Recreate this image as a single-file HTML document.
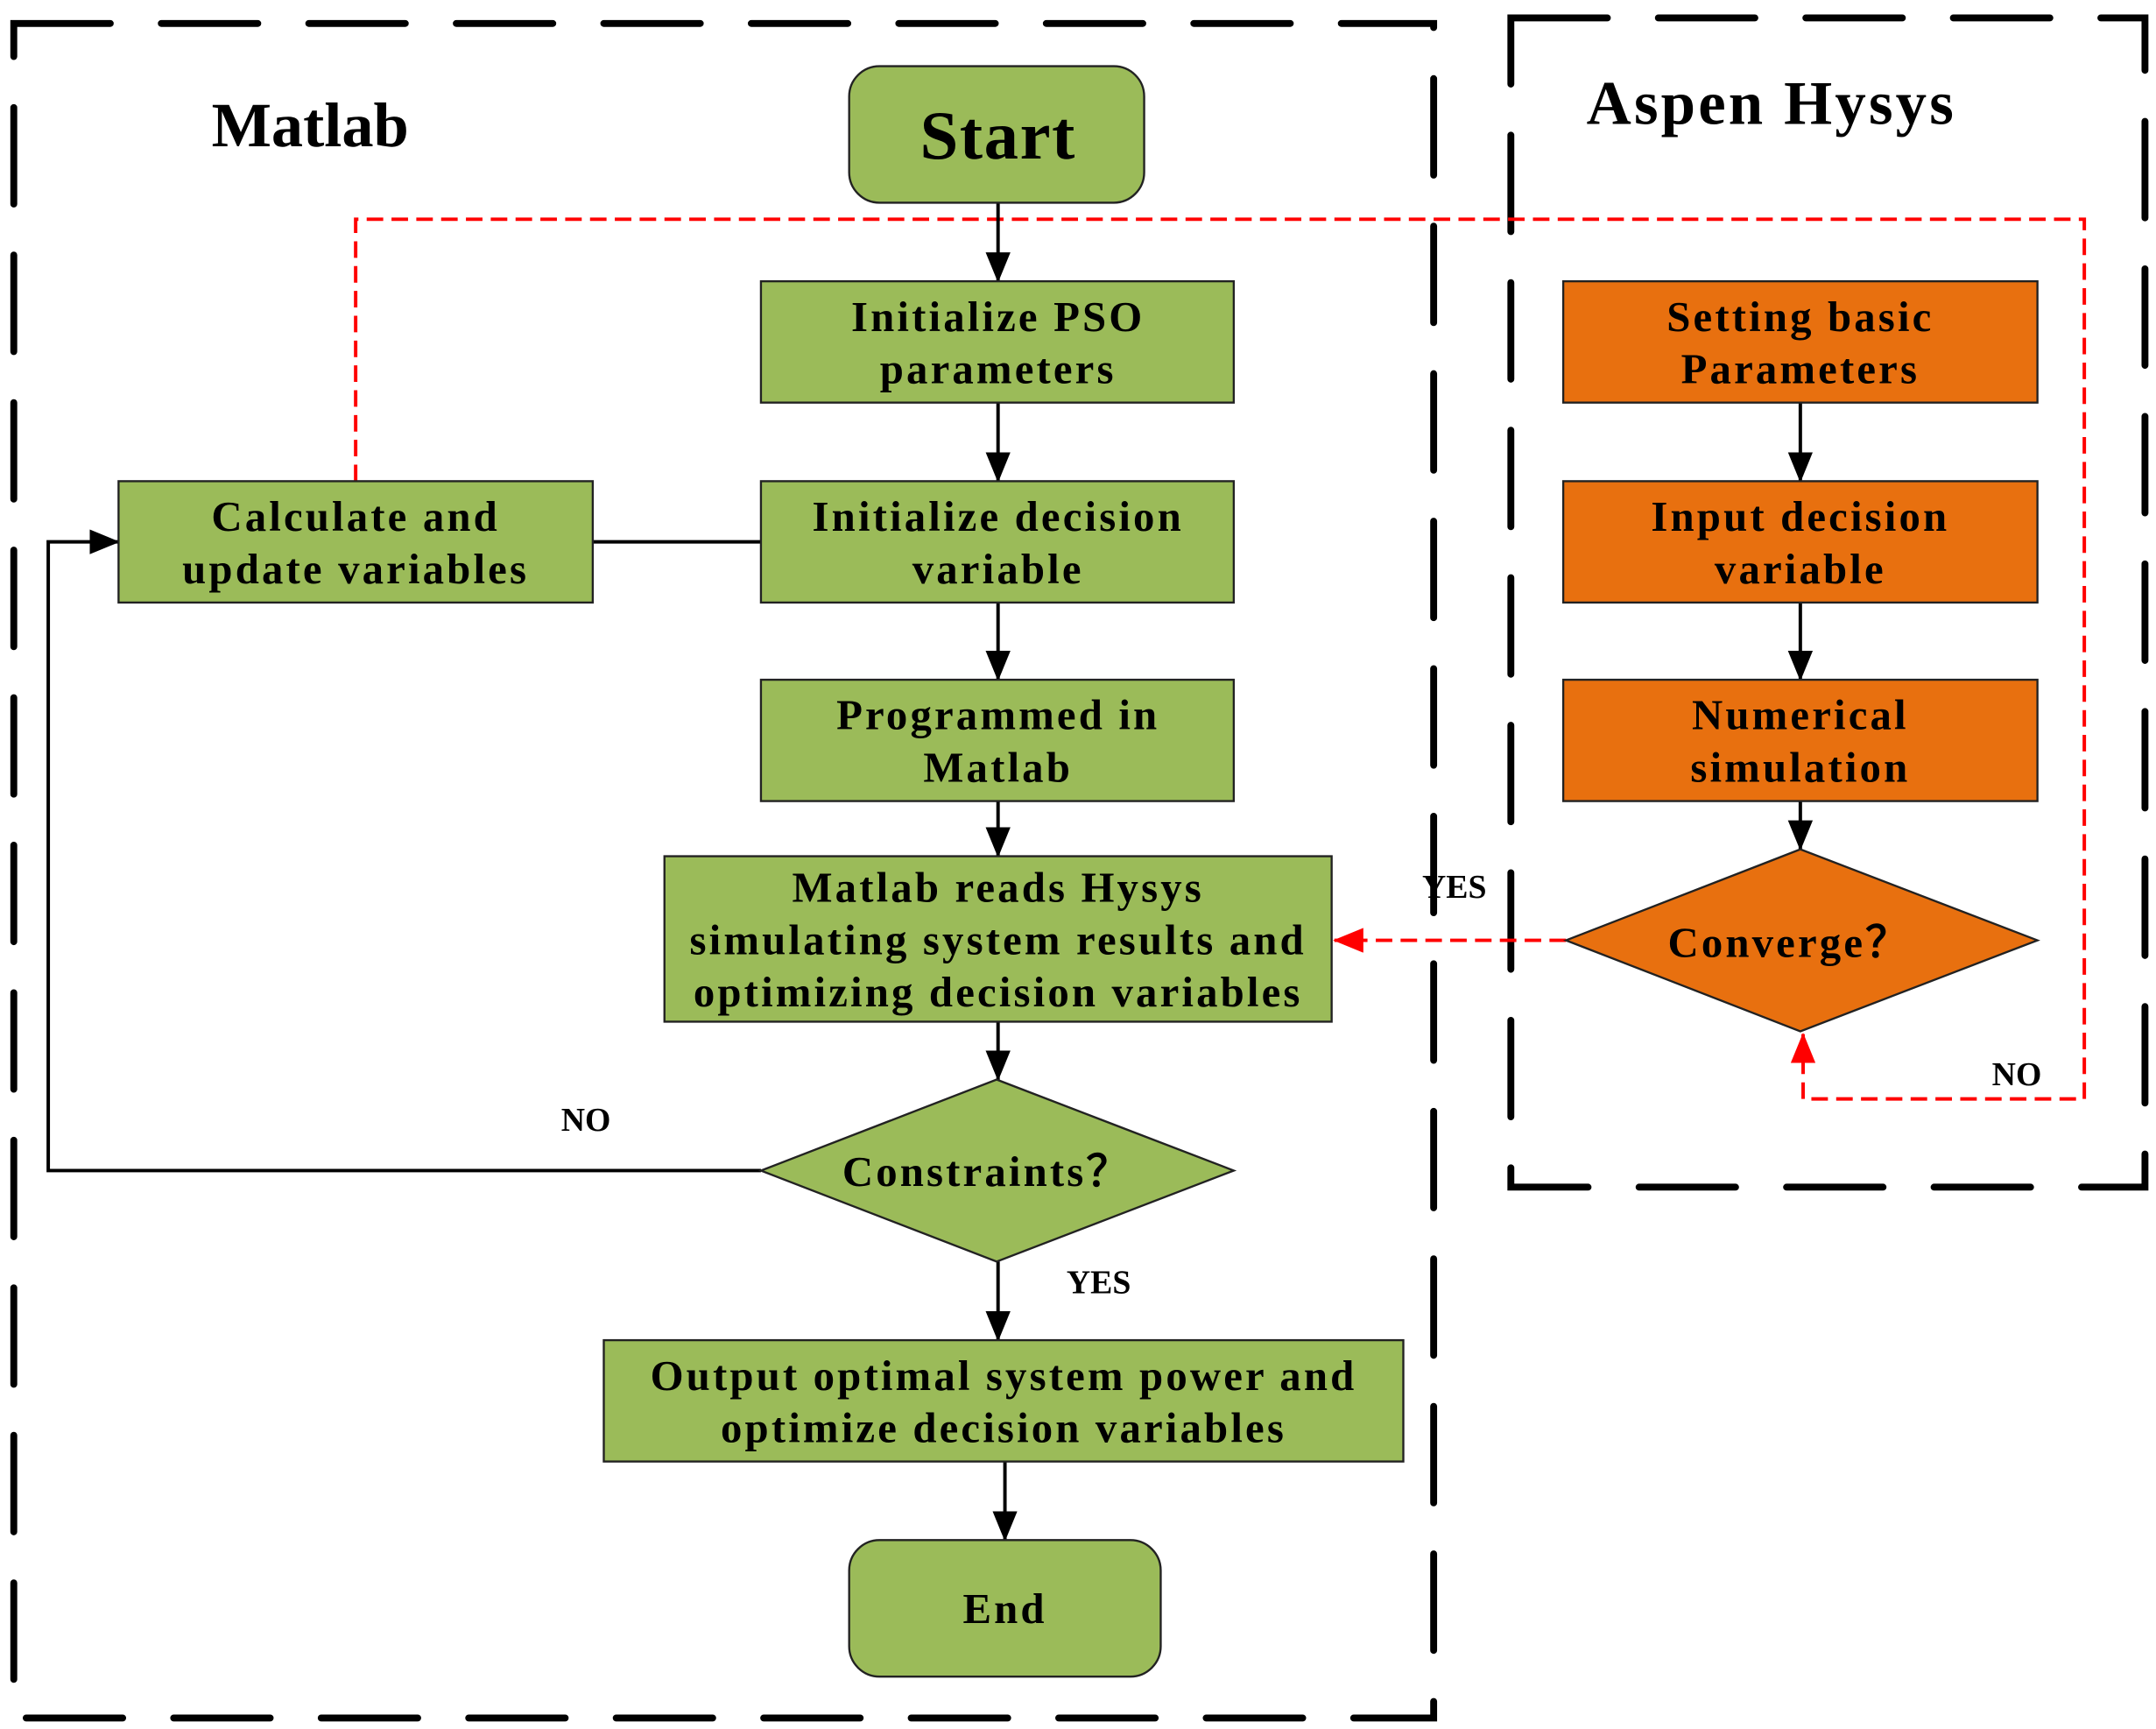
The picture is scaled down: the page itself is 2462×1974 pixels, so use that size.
<!DOCTYPE html>
<html><head><meta charset="utf-8"><style>
html,body{margin:0;padding:0;background:#fff}
svg{display:block}
text{font-family:"Liberation Serif",serif;font-weight:bold;fill:#000;text-anchor:middle}
.t{font-size:31px;letter-spacing:2px}
.g{fill:#9BBB59;stroke:#222;stroke-width:1.5}
.o{fill:#E8700F;stroke:#222;stroke-width:1.5}
.bl{stroke:#000;stroke-width:2.5;fill:none}
.rd{stroke:#f00;stroke-width:2.5;fill:none;stroke-dasharray:12,6}
.bd{stroke:#000;stroke-width:5;fill:none;stroke-dasharray:70,37;stroke-linecap:round}
</style></head><body>
<svg width="2462" height="1974" viewBox="0 0 1564 1252" xmlns="http://www.w3.org/2000/svg">
<defs>
<marker id="ab" markerWidth="22" markerHeight="18" refX="21" refY="9" orient="auto" markerUnits="userSpaceOnUse" viewBox="0 0 22 18"><path d="M0,0 L22,9 L0,18 z" fill="#000"/></marker>
<marker id="ar" markerWidth="22" markerHeight="18" refX="21" refY="9" orient="auto" markerUnits="userSpaceOnUse" viewBox="0 0 22 18"><path d="M0,0 L22,9 L0,18 z" fill="#f00"/></marker>
</defs>
<rect x="10" y="16" width="1030" height="1229" class="bd"/>
<rect x="1096" y="12" width="460" height="848" class="bd"/>
<text x="225" y="105" style="font-size:46px">Matlab</text>
<text x="1285" y="89" style="font-size:45px;letter-spacing:2px">Aspen Hysys</text>

<path d="M258,348 V158 H1512 V796 H1308 V749" class="rd" marker-end="url(#ar)"/>
<path d="M1136,681 H968" class="rd" marker-end="url(#ar)"/>

<path d="M724,146 V203" class="bl" marker-end="url(#ab)"/>
<path d="M724,291 V348" class="bl" marker-end="url(#ab)"/>
<path d="M724,436 V492" class="bl" marker-end="url(#ab)"/>
<path d="M724,580 V620" class="bl" marker-end="url(#ab)"/>
<path d="M724,740 V782" class="bl" marker-end="url(#ab)"/>
<path d="M724,914 V971" class="bl" marker-end="url(#ab)"/>
<path d="M729,1059 V1116" class="bl" marker-end="url(#ab)"/>
<path d="M430,392 H552" class="bl"/>
<path d="M552,848 H35 V392 H86" class="bl" marker-end="url(#ab)"/>
<path d="M1306,291 V348" class="bl" marker-end="url(#ab)"/>
<path d="M1306,436 V492" class="bl" marker-end="url(#ab)"/>
<path d="M1306,580 V615" class="bl" marker-end="url(#ab)"/>

<rect x="616" y="47" width="214" height="99" rx="22" class="g"/>
<text x="724" y="114" style="font-size:50px;letter-spacing:1px">Start</text>
<rect x="552" y="203" width="343" height="88" class="g"/>
<text x="724" y="239" class="t">Initialize PSO</text>
<text x="724" y="277" class="t">parameters</text>
<rect x="552" y="348" width="343" height="88" class="g"/>
<text x="724" y="384" class="t">Initialize decision</text>
<text x="724" y="422" class="t">variable</text>
<rect x="86" y="348" width="344" height="88" class="g"/>
<text x="258" y="384" class="t">Calculate and</text>
<text x="258" y="422" class="t">update variables</text>
<rect x="552" y="492" width="343" height="88" class="g"/>
<text x="724" y="528" class="t">Programmed in</text>
<text x="724" y="566" class="t">Matlab</text>
<rect x="482" y="620" width="484" height="120" class="g"/>
<text x="724" y="653" class="t">Matlab reads Hysys</text>
<text x="724" y="691" class="t">simulating system results and</text>
<text x="724" y="729" class="t">optimizing decision variables</text>
<polygon points="552,848 723,782 895,848 723,914" class="g"/>
<text x="716" y="859" class="t">Constraints？</text>
<rect x="438" y="971" width="580" height="88" class="g"/>
<text x="728" y="1007" class="t">Output optimal system power and</text>
<text x="728" y="1045" class="t">optimize decision variables</text>
<rect x="616" y="1116" width="226" height="99" rx="22" class="g"/>
<text x="729" y="1176" class="t">End</text>

<rect x="1134" y="203" width="344" height="88" class="o"/>
<text x="1306" y="239" class="t">Setting basic</text>
<text x="1306" y="277" class="t">Parameters</text>
<rect x="1134" y="348" width="344" height="88" class="o"/>
<text x="1306" y="384" class="t">Input decision</text>
<text x="1306" y="422" class="t">variable</text>
<rect x="1134" y="492" width="344" height="88" class="o"/>
<text x="1306" y="528" class="t">Numerical</text>
<text x="1306" y="566" class="t">simulation</text>
<polygon points="1136,681 1306,615 1478,681 1306,747" class="o"/>
<text x="1298" y="693" class="t">Converge？</text>

<text x="1055" y="650" style="font-size:24px">YES</text>
<text x="425" y="819" style="font-size:24px">NO</text>
<text x="797" y="937" style="font-size:24px">YES</text>
<text x="1463" y="786" style="font-size:24px">NO</text>
</svg>
</body></html>
